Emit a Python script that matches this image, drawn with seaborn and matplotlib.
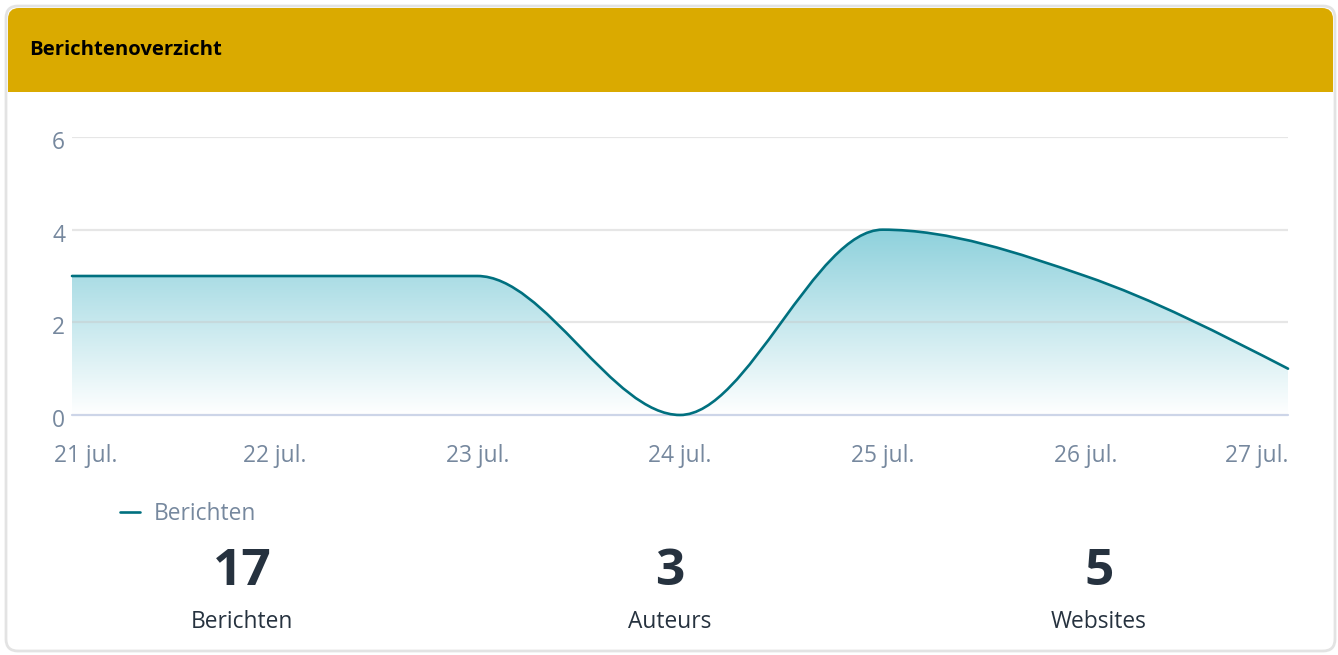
import matplotlib
matplotlib.use("Agg")
import matplotlib.pyplot as plt
import numpy as np
import seaborn as sns
from matplotlib.path import Path
from matplotlib.patches import PathPatch, FancyBboxPatch, Rectangle
from matplotlib.lines import Line2D
from matplotlib.transforms import ScaledTranslation

# Data
dates = ['21 jul.', '22 jul.', '23 jul.', '24 jul.', '25 jul.', '26 jul.', '27 jul.']
berichten = [3, 3, 3, 0, 4, 3, 1]
yticks = [0, 2, 4, 6]
stat_values = ['17', '3', '5']
stat_labels = ['Berichten', 'Auteurs', 'Websites']

W, H = 1338, 655
LINE = '#00707f'
TICK = '#76889e'
DARK = '#26323f'
GOLD = '#daaa00'

sns.set_theme(style='white')
plt.rcParams['font.family'] = ['Open Sans', 'DejaVu Sans']


def monotone_path(xs, ys):
    # smooth curve like the web chart (monotone cubic, bezier segments)
    xs = np.asarray(xs, float)
    ys = np.asarray(ys, float)
    n = len(xs)
    h = np.diff(xs)
    s = np.diff(ys) / h
    m = np.zeros(n)
    for i in range(1, n - 1):
        p = (s[i - 1] * h[i] + s[i] * h[i - 1]) / (h[i - 1] + h[i])
        m[i] = (np.sign(s[i - 1]) + np.sign(s[i])) * min(abs(s[i - 1]), abs(s[i]), 0.5 * abs(p))
    m[0] = (3 * s[0] - m[1]) / 2
    m[-1] = (3 * s[-1] - m[-2]) / 2
    verts = [(xs[0], ys[0])]
    codes = [Path.MOVETO]
    for i in range(n - 1):
        d = h[i] / 3
        verts += [(xs[i] + d, ys[i] + m[i] * d),
                  (xs[i + 1] - d, ys[i + 1] - m[i + 1] * d),
                  (xs[i + 1], ys[i + 1])]
        codes += [Path.CURVE4] * 3
    return verts, codes


fig = plt.figure(figsize=(W / 100, H / 100), dpi=100)

# card background
bg = fig.add_axes([0, 0, 1, 1], zorder=-1)
bg.set_xlim(0, W)
bg.set_ylim(H, 0)
bg.axis('off')
bg.add_patch(FancyBboxPatch((6, 6), W - 9, H - 10, boxstyle='round,pad=0,rounding_size=12',
                            facecolor='white', edgecolor='#e3e3e3', linewidth=2))
bg.add_patch(FancyBboxPatch((8, 8), W - 13, 84, boxstyle='round,pad=0,rounding_size=11',
                            facecolor=GOLD, edgecolor='none'))
bg.add_patch(Rectangle((8, 40), W - 13, 52, facecolor=GOLD, edgecolor='none'))
bg.text(29, 50, 'Berichtenoverzicht', fontsize=14.6, fontweight='bold', color='black',
        ha='left', va='center')

# chart
ax = fig.add_axes([72 / W, (H - 415) / H, (1288 - 72) / W, (415 - 137) / H])
x = np.arange(len(dates))
verts, codes = monotone_path(x, berichten)

ymax = max(berichten)
top = np.array([0x8e, 0xd1, 0xdc]) / 255
bottom = np.array([0xff, 0xff, 0xff]) / 255
t = np.linspace(1, 0, 256)[:, None]
grad = (bottom + (top - bottom) * t)[:, None, :]
img = ax.imshow(grad, extent=[x[0], x[-1], 0, ymax], aspect='auto', origin='upper',
                zorder=1, interpolation='bilinear')
fill_path = Path(verts + [(x[-1], 0), (x[0], 0), verts[0]],
                 codes + [Path.LINETO, Path.LINETO, Path.CLOSEPOLY])
clip = PathPatch(fill_path, facecolor='none', edgecolor='none', transform=ax.transData)
ax.add_patch(clip)
img.set_clip_path(clip)

for yv in yticks[1:]:
    ax.axhline(yv, color='#c8c8c8', alpha=0.45, linewidth=1.6, zorder=2)
ax.axhline(0, color='#cdd5e8', linewidth=1.6, zorder=2, clip_on=False)

ax.add_patch(PathPatch(Path(verts, codes), facecolor='none', edgecolor=LINE,
                       linewidth=1.9, zorder=3, clip_on=False, capstyle='round'))

ax.set_xlim(x[0], x[-1])
ax.set_ylim(0, 6)
ax.set_xticks(x)
ax.set_xticklabels(dates)
ax.set_yticks(yticks)
ax.tick_params(axis='x', length=0, pad=21, labelsize=16.4, labelcolor=TICK)
ax.tick_params(axis='y', length=0, pad=5, labelsize=16.4, labelcolor=TICK)
labels = ax.get_xticklabels()
labels[0].set_transform(labels[0].get_transform() + ScaledTranslation(0.135, 0, fig.dpi_scale_trans))
labels[-1].set_horizontalalignment('right')
for lab in ax.get_yticklabels():
    lab.set_transform(lab.get_transform() + ScaledTranslation(0, -0.03, fig.dpi_scale_trans))
ax.patch.set_alpha(0)
sns.despine(ax=ax, left=True, bottom=True)

# legend
handle = Line2D([], [], color=LINE, linewidth=1.9)
fig.legend(handles=[handle], labels=['Berichten'], loc='center left',
           bbox_to_anchor=(120 / W, 1 - 514 / H), frameon=False, fontsize=16.4,
           handlelength=0.88, handletextpad=0.6, borderpad=0, borderaxespad=0,
           labelcolor=TICK)

# summary numbers
centers = [242, 670, 1099]
for cx, val, lab in zip(centers, stat_values, stat_labels):
    bg.text(cx, 572, val, fontsize=37, fontweight='bold', color=DARK, ha='center', va='center')
    bg.text(cx, 622, lab, fontsize=16.4, color=DARK, ha='center', va='center')

fig.savefig('out.png', dpi=100)
